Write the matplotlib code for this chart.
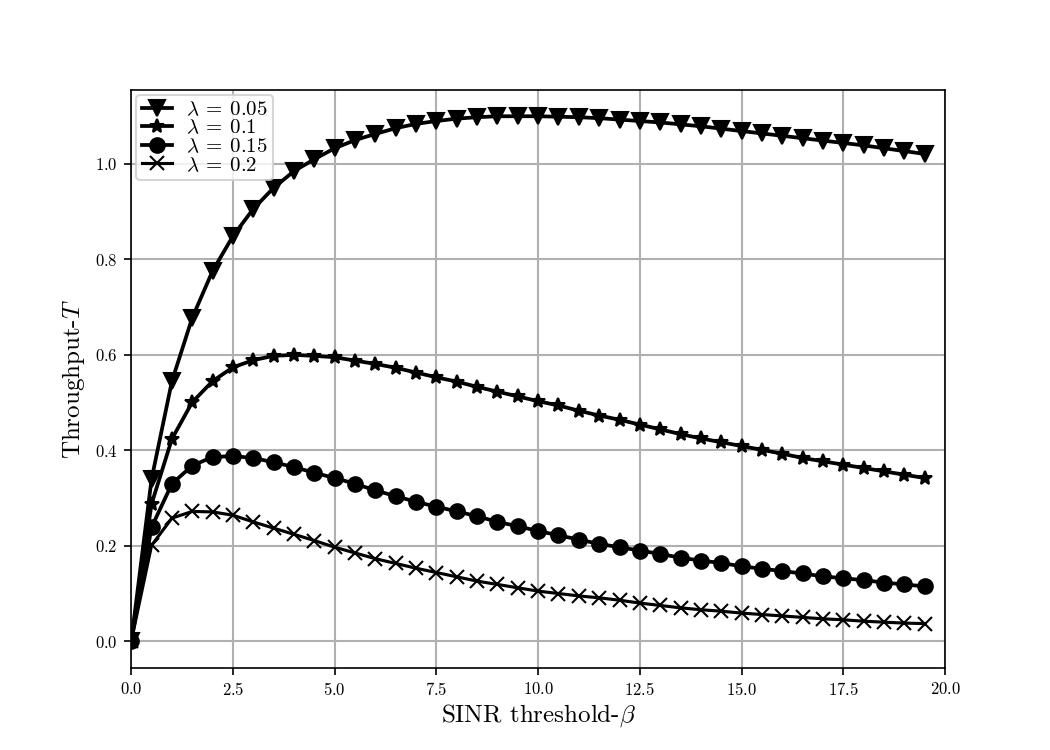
import numpy as np
import matplotlib
matplotlib.use("Agg")
import matplotlib.pyplot as plt

plt.rcParams["font.family"] = "serif"
plt.rcParams["font.serif"] = ["cmr10", "DejaVu Serif"]
plt.rcParams["mathtext.fontset"] = "cm"
plt.rcParams["axes.formatter.use_mathtext"] = True
plt.rcParams["axes.unicode_minus"] = False

beta = np.arange(0, 20, 0.5)

t_005 = [0, 0.34, 0.545, 0.678, 0.776, 0.849, 0.906, 0.950, 0.985, 1.010,
         1.033, 1.050, 1.063, 1.075, 1.084, 1.090, 1.095, 1.098, 1.100, 1.100,
         1.100, 1.099, 1.098, 1.096, 1.093, 1.090, 1.087, 1.083, 1.079, 1.074,
         1.069, 1.064, 1.059, 1.054, 1.049, 1.044, 1.039, 1.033, 1.027, 1.021]
t_01 = [0, 0.288, 0.424, 0.501, 0.545, 0.574, 0.589, 0.598, 0.600, 0.598,
        0.595, 0.588, 0.581, 0.573, 0.563, 0.553, 0.544, 0.533, 0.523, 0.513,
        0.503, 0.494, 0.483, 0.473, 0.464, 0.454, 0.444, 0.434, 0.425, 0.417,
        0.409, 0.401, 0.393, 0.384, 0.377, 0.370, 0.363, 0.356, 0.349, 0.342]
t_015 = [0, 0.239, 0.330, 0.368, 0.386, 0.388, 0.384, 0.375, 0.365, 0.353,
         0.342, 0.330, 0.316, 0.304, 0.292, 0.282, 0.272, 0.262, 0.250, 0.241,
         0.231, 0.222, 0.213, 0.204, 0.197, 0.190, 0.183, 0.175, 0.169, 0.164,
         0.157, 0.152, 0.147, 0.142, 0.136, 0.132, 0.128, 0.123, 0.119, 0.115]
t_02 = [0, 0.201, 0.258, 0.272, 0.271, 0.264, 0.250, 0.237, 0.224, 0.211,
        0.197, 0.185, 0.173, 0.163, 0.153, 0.144, 0.135, 0.126, 0.119, 0.112,
        0.105, 0.100, 0.095, 0.091, 0.086, 0.080, 0.075, 0.070, 0.066, 0.063,
        0.059, 0.056, 0.053, 0.050, 0.047, 0.045, 0.042, 0.040, 0.038, 0.037]

fig, ax = plt.subplots(figsize=(7, 5), dpi=150)
ax.plot(beta, t_005, "k-v", lw=1.8, ms=8, label=r"$\lambda\:=\:0.05$")
ax.plot(beta, t_01, "k-*", lw=1.8, ms=7, label=r"$\lambda\:=\:0.1$")
ax.plot(beta, t_015, "k-o", lw=1.8, ms=7, label=r"$\lambda\:=\:0.15$")
ax.plot(beta, t_02, "k-x", lw=1.5, ms=7, label=r"$\lambda\:=\:0.2$")

ax.set_xlim(0, 20)
ax.grid(True, color="#b0b0b0", lw=1)
ax.tick_params(labelsize=8, pad=3)
ax.set_xlabel(r"SINR threshold-$\beta$", fontsize=12, labelpad=2)
ax.set_ylabel(r"Throughput-$T$", fontsize=12)
ax.legend(loc="upper left", fontsize=10, labelspacing=0.0, borderpad=0.25,
          handlelength=1.45, handletextpad=0.7, borderaxespad=0.25)

plt.savefig("out.png", dpi=150)
